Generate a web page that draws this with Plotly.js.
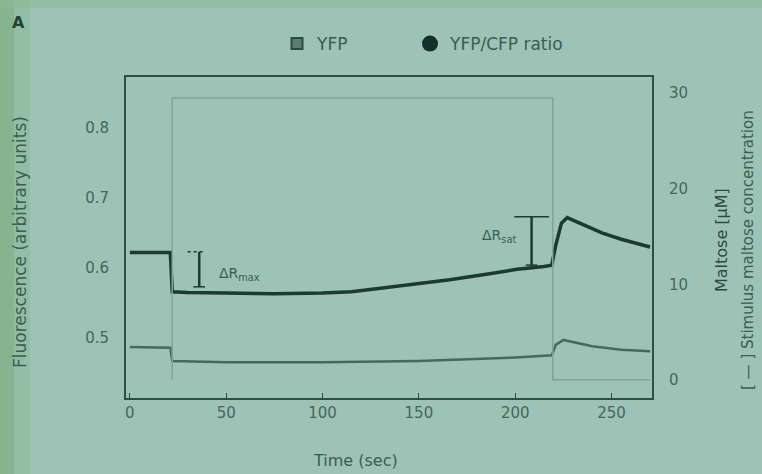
<!DOCTYPE html>
<html>
<head>
<meta charset="utf-8">
<script src="https://cdn.plot.ly/plotly-3.0.1.min.js"></script>
<style>html,body{margin:0;padding:0;background:#9cc3b5;}#chart{width:762px;height:474px;}</style>
</head>
<body>
<div id="chart"></div>
<script>
// ---- data ----
const ratioTime = [0, 21, 22, 30, 50, 75, 100, 115, 130, 150, 166, 185, 201, 215, 219, 221, 224, 227, 235, 245, 255, 265, 270];
const ratioVals = [0.622, 0.622, 0.566, 0.565, 0.564, 0.563, 0.564, 0.566, 0.571, 0.577, 0.583, 0.591, 0.598, 0.602, 0.604, 0.632, 0.664, 0.672, 0.662, 0.650, 0.641, 0.634, 0.630];
const yfpTime = [0, 21, 22, 50, 100, 150, 200, 219, 221, 225, 240, 255, 270];
const yfpVals = [0.487, 0.486, 0.467, 0.465, 0.465, 0.467, 0.472, 0.475, 0.490, 0.497, 0.488, 0.483, 0.481];
const maltoseTime = [22, 22, 219.5, 219.5, 270];
const maltoseVals = [0, 29.5, 29.5, 0, 0];
const xTicks = [0, 50, 100, 150, 200, 250];
const leftTicks = [0.5, 0.6, 0.7, 0.8];
const rightTicks = [0, 10, 20, 30];
const seriesNames = ['YFP', 'YFP/CFP ratio'];
// delta-R markers: [time, low, high]
const dRleft = [36, 0.573, 0.623];
const dRright = [208.5, 0.604, 0.673];

const ink = '#3b5d53';
const tickInk = '#46675d';
const bg = '#9cc3b5';
const fam = 'DejaVu Sans, Liberation Sans, sans-serif';
const font = {family: fam, size: 15, color: tickInk};
const titleFont = {family: fam, size: 16, color: ink};

const traces = [
  {x: maltoseTime, y: maltoseVals, yaxis: 'y2', mode: 'lines', line: {color: '#7ea59a', width: 1.5}, showlegend: false, hoverinfo: 'skip'},
  {x: yfpTime, y: yfpVals, mode: 'lines', line: {color: '#47695f', width: 2.5}, showlegend: false},
  {x: ratioTime, y: ratioVals, mode: 'lines', line: {color: '#1d3a32', width: 3.5}, showlegend: false},
  {x: [null], y: [null], mode: 'markers', name: seriesNames[0], legend: 'legend', marker: {symbol: 'square', size: 11, color: '#5d7d73', line: {color: '#2c4a41', width: 2}}},
  {x: [null], y: [null], mode: 'markers', name: seriesNames[1], legend: 'legend2', marker: {symbol: 'circle', size: 16, color: '#15302a'}}
];

function px(p) { return (p - 126) / 526; }
function py(p) { return (398 - p) / 321; }

const shapes = [
  {type: 'rect', xref: 'paper', yref: 'paper', x0: px(0), x1: px(14), y0: py(474), y1: py(0), fillcolor: '#7fb084', line: {width: 0}, opacity: 0.8, layer: 'below'},
  {type: 'rect', xref: 'paper', yref: 'paper', x0: px(14), x1: px(30), y0: py(474), y1: py(0), fillcolor: '#8db99a', line: {width: 0}, opacity: 0.6, layer: 'below'},
  {type: 'rect', xref: 'paper', yref: 'paper', x0: px(0), x1: px(762), y0: py(8), y1: py(0), fillcolor: '#8fba98', line: {width: 0}, opacity: 0.6, layer: 'below'},
  // delta R markers (I-bars)
  {type: 'line', x0: dRleft[0], x1: dRleft[0], y0: dRleft[1], y1: dRleft[2], line: {color: '#1d3a32', width: 2.5}},
  {type: 'line', x0: dRleft[0] - 6, x1: dRleft[0] + 3, y0: dRleft[2], y1: dRleft[2], line: {color: '#1d3a32', width: 1.5, dash: 'dot'}},
  {type: 'line', x0: dRleft[0] - 3, x1: dRleft[0] + 3, y0: dRleft[1], y1: dRleft[1], line: {color: '#1d3a32', width: 1.5}},
  {type: 'line', x0: dRright[0], x1: dRright[0], y0: dRright[1], y1: dRright[2], line: {color: '#1d3a32', width: 2.5}},
  {type: 'line', x0: dRright[0] - 9, x1: dRright[0] + 9, y0: dRright[2], y1: dRright[2], line: {color: '#1d3a32', width: 1.5}},
  {type: 'line', x0: dRright[0] - 3, x1: dRright[0] + 3, y0: dRright[1], y1: dRright[1], line: {color: '#1d3a32', width: 1.5}}
];

const annotations = [
  {xref: 'paper', yref: 'paper', x: px(18), y: py(22), xanchor: 'center', yanchor: 'middle', text: '<b>A</b>', showarrow: false, font: {family: fam, size: 16, color: '#23403a'}},
  {x: dRleft[0] + 9, y: 0.592, xanchor: 'left', yanchor: 'middle', text: 'ΔR<sub>max</sub>', showarrow: false, font: {family: fam, size: 14, color: ink}},
  {x: dRright[0] - 7, y: 0.645, xanchor: 'right', yanchor: 'middle', text: 'ΔR<sub>sat</sub>', showarrow: false, font: {family: fam, size: 14, color: ink}},
  {xref: 'paper', yref: 'paper', x: px(355), y: py(461), xanchor: 'center', yanchor: 'middle', text: 'Time (sec)', showarrow: false, font: titleFont},
  {xref: 'paper', yref: 'paper', x: px(20), y: py(242), xanchor: 'center', yanchor: 'middle', text: 'Fluorescence (arbitrary units)', textangle: -90, showarrow: false, font: {family: fam, size: 17, color: ink}},
  {xref: 'paper', yref: 'paper', x: px(722), y: py(240), xanchor: 'center', yanchor: 'middle', text: 'Maltose [μM]', textangle: -90, showarrow: false, font: {family: fam, size: 16, color: '#2c4a41'}},
  {xref: 'paper', yref: 'paper', x: px(748), y: py(250), xanchor: 'center', yanchor: 'middle', text: '[ — ] Stimulus maltose concentration', textangle: -90, showarrow: false, font: {family: fam, size: 15, color: ink}}
];

const legendBase = {orientation: 'h', yanchor: 'middle', y: py(44), xanchor: 'left', bgcolor: 'rgba(0,0,0,0)', font: {family: fam, size: 17, color: ink}, borderwidth: 0};

const layout = {
  width: 762, height: 474,
  margin: {l: 126, r: 110, t: 77, b: 76},
  paper_bgcolor: bg, plot_bgcolor: bg,
  font: font,
  showlegend: true,
  legend: Object.assign({}, legendBase, {x: px(277)}),
  legend2: Object.assign({}, legendBase, {x: px(410)}),
  xaxis: {range: [-2, 271], tickvals: xTicks, ticks: 'inside', ticklen: 5, tickcolor: '#2f4f46', showline: true, linecolor: '#2f4f46', linewidth: 2, mirror: true, showgrid: false, zeroline: false, tickfont: font},
  yaxis: {range: [0.414, 0.873], tickvals: leftTicks, ticks: '', showline: true, linecolor: '#2f4f46', linewidth: 2, showgrid: false, zeroline: false, tickfont: font, ticklabelstandoff: 12},
  yaxis2: {range: [-1.9, 31.7], overlaying: 'y', side: 'right', tickvals: rightTicks, ticks: '', showline: true, linecolor: '#2f4f46', linewidth: 2, showgrid: false, zeroline: false, tickfont: font, ticklabelstandoff: 12},
  shapes: shapes,
  annotations: annotations
};

Plotly.newPlot('chart', traces, layout, {displayModeBar: false, staticPlot: true});
</script>
</body>
</html>
